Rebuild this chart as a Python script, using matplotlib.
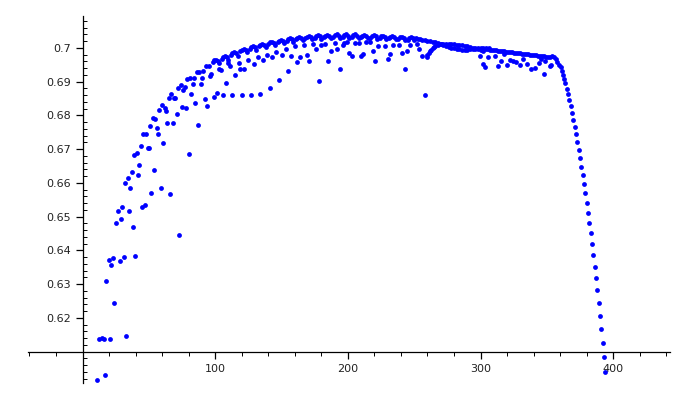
import matplotlib
matplotlib.use("Agg")
import matplotlib.pyplot as plt
from matplotlib.ticker import MultipleLocator, FuncFormatter

# ---- data ----
left_x = [10.7, 16.7, 12.7, 14.7, 16.0, 21, 33, 23.7, 17.9, 20, 22.7, 21.7, 28, 31, 39.8,
          25, 28.8, 37.8, 27, 29.8, 35, 44.8, 46.9, 51.8, 58.9, 65.9, 73, 80, 32, 35.8,
          34, 37, 42, 42.8, 53.9, 38.8, 40.8, 43.8, 49.1, 50.1, 60.9, 45.8, 47.9, 56.9,
          50.9, 55.9, 52.9, 54.9, 63.9, 68, 71, 57.9, 59.9, 61.9, 62.9, 75, 78, 65, 69,
          70, 66.9, 72, 74, 76, 77, 82, 85, 87, 79, 81, 84, 83, 89, 90, 86, 88, 91, 92,
          94, 93, 95, 96, 97, 99, 101]
left_y = [0.6016, 0.6030, 0.6139, 0.6141, 0.6139, 0.6138, 0.6146, 0.6245, 0.6309, 0.6372,
          0.6379, 0.6357, 0.6368, 0.6380, 0.6384, 0.6482, 0.6492, 0.6470, 0.6517, 0.6529,
          0.6518, 0.6530, 0.6535, 0.6569, 0.6586, 0.6567, 0.6446, 0.6686, 0.6599, 0.6586,
          0.6616, 0.6633, 0.6625, 0.6654, 0.6639, 0.6682, 0.6689, 0.6710, 0.6704, 0.6704,
          0.6718, 0.6745, 0.6745, 0.6746, 0.6768, 0.6764, 0.6794, 0.6789, 0.6779, 0.6778,
          0.6804, 0.6815, 0.6832, 0.6823, 0.6813, 0.6825, 0.6823, 0.6852, 0.6852, 0.6852,
          0.6864, 0.6882, 0.6890, 0.6876, 0.6884, 0.6863, 0.6838, 0.6772, 0.6908, 0.6912,
          0.6910, 0.6894, 0.6894, 0.6910, 0.6929, 0.6930, 0.6933, 0.6848, 0.6827, 0.6948,
          0.6946, 0.6918, 0.6924, 0.6856, 0.6867]

top_x = [98, 99, 100.5, 102, 103, 105, 106, 107.5, 109, 110, 112, 113, 114.5, 116, 117,
         119, 120, 121.5, 123, 124, 126, 127, 128.5, 130, 131, 133, 134, 135.5, 137, 138,
         140, 141, 142.5, 144, 145, 147, 148, 149.5, 151, 152, 154, 155, 156.5, 158, 159,
         161, 162, 163.5, 165, 166, 168, 169, 170.5, 172, 173, 175, 176, 177.5, 179, 180,
         182, 183, 184.5, 186, 187, 189, 190, 191.5, 193, 194, 196, 197, 198.5, 200, 201,
         203, 204, 205.5, 207, 208, 210, 211, 212.5, 214, 215, 217, 218, 219.5, 221, 222,
         224, 225, 226.5, 228, 229, 231, 232, 233.5, 235, 236, 238, 239, 240.5, 242, 243,
         245, 246, 247.5, 249, 250]
top_y = [0.6958, 0.6963, 0.6965, 0.6962, 0.6955, 0.6968, 0.6973, 0.6975, 0.6972, 0.6965,
         0.6980, 0.6985, 0.6987, 0.6984, 0.6977, 0.6990, 0.6995, 0.6997, 0.6994, 0.6987,
         0.6998, 0.7003, 0.7005, 0.7002, 0.6995, 0.7005, 0.7010, 0.7012, 0.7009, 0.7002,
         0.7012, 0.7017, 0.7019, 0.7016, 0.7009, 0.7017, 0.7022, 0.7024, 0.7021, 0.7014,
         0.7022, 0.7027, 0.7029, 0.7026, 0.7019, 0.7026, 0.7031, 0.7033, 0.7030, 0.7023,
         0.7029, 0.7034, 0.7036, 0.7033, 0.7026, 0.7031, 0.7036, 0.7038, 0.7035, 0.7028,
         0.7032, 0.7037, 0.7039, 0.7036, 0.7029, 0.7033, 0.7038, 0.7040, 0.7037, 0.7030,
         0.7033, 0.7038, 0.7040, 0.7037, 0.7030, 0.7033, 0.7038, 0.7040, 0.7037, 0.7030,
         0.7032, 0.7037, 0.7039, 0.7036, 0.7029, 0.7031, 0.7036, 0.7038, 0.7035, 0.7028,
         0.7030, 0.7035, 0.7037, 0.7034, 0.7027, 0.7029, 0.7034, 0.7036, 0.7033, 0.7026,
         0.7027, 0.7032, 0.7034, 0.7031, 0.7024, 0.7025, 0.7030, 0.7032, 0.7029, 0.7024]

mid_x = [103, 104, 110, 111, 118, 118.5, 122, 125, 129, 132, 136, 139, 143, 146, 150, 153,
         157, 160, 164, 167, 169, 171, 174, 176, 179.5, 183, 185, 187, 190, 192, 196, 197,
         199, 201, 203, 205, 208, 210, 211.5, 214, 216.7, 218.7, 220.7, 223, 227.7, 230,
         231.7, 233.8, 238.7, 240.8, 242.8, 244.8, 246.8, 251.8, 253.8, 255.8, 259.8,
         106, 108, 113, 115, 120, 127, 134, 141, 148, 155, 162, 178, 194, 257.9]
mid_y = [0.6938, 0.6935, 0.6955, 0.6946, 0.6956, 0.6939, 0.6939, 0.6963, 0.6953, 0.6972,
         0.6965, 0.6979, 0.6973, 0.6989, 0.6979, 0.6997, 0.6977, 0.7007, 0.6974, 0.7009,
         0.6979, 0.6960, 0.7012, 0.6997, 0.7009, 0.7012, 0.6961, 0.6990, 0.7014, 0.6997,
         0.7009, 0.7014, 0.7019, 0.6984, 0.6975, 0.7016, 0.7016, 0.6977, 0.6981, 0.7017,
         0.7017, 0.6991, 0.6962, 0.7007, 0.7007, 0.6968, 0.6981, 0.7009, 0.7009, 0.6986,
         0.6939, 0.6992, 0.7009, 0.7011, 0.6997, 0.6977, 0.6974,
         0.6861, 0.6897, 0.6860, 0.6920, 0.6860, 0.6860, 0.6864, 0.6881, 0.6904, 0.6932,
         0.6958, 0.6901, 0.6937, 0.6862]

braid_a_x = [251, 252.5, 254, 256, 258, 260, 262, 264, 266, 268, 270, 272, 274, 276, 278,
             280, 282, 284, 286, 288, 290, 292, 294, 296, 298, 300, 302, 304, 306]
braid_a_y = [0.7029, 0.7028, 0.7027, 0.7025, 0.7024, 0.7022, 0.7021, 0.7019, 0.7017,
             0.7014, 0.7012, 0.7009, 0.7006, 0.7003, 0.7001, 0.6999, 0.6997, 0.6996,
             0.6995, 0.6995, 0.6995, 0.6996, 0.6997, 0.6998, 0.7000, 0.7001, 0.7001,
             0.7000, 0.6999]
braid_b_x = [260, 261, 262, 263, 264, 265, 266, 268, 270, 272, 274, 276, 278, 280, 282, 284,
             286, 288, 290, 292, 294, 296, 298, 300, 302]
braid_b_y = [0.6980, 0.6985, 0.6990, 0.6995, 0.6999, 0.7002, 0.7005, 0.7009, 0.7011,
             0.7012, 0.7013, 0.7013, 0.7012, 0.7011, 0.7010, 0.7009, 0.7008, 0.7007,
             0.7005, 0.7003, 0.7001, 0.6999, 0.6996, 0.6993, 0.6990]

band_x = [304, 305.5, 307, 308.5, 310, 311.5, 313, 314.5, 316, 317.5, 319, 320.5, 322, 323.5,
          325, 326.5, 328, 329.5, 331, 332.5, 334, 335.5, 337, 338.5, 340, 341.5, 343, 344.5,
          346, 347.5, 349, 350.5, 352, 353.5, 355, 356.5]
band_y = [0.6998, 0.6996, 0.6993, 0.6995, 0.6994, 0.6993, 0.6991, 0.6992, 0.6991, 0.6990,
          0.6988, 0.6989, 0.6988, 0.6987, 0.6985, 0.6986, 0.6985, 0.6984, 0.6982, 0.6983,
          0.6982, 0.6981, 0.6979, 0.6980, 0.6979, 0.6978, 0.6976, 0.6977, 0.6976, 0.6975,
          0.6973, 0.6974, 0.6974, 0.6975, 0.6974, 0.6966]

scatter_x = [299.5, 301.6, 303.6, 305.8, 310.9, 313, 315.2, 318, 320, 322, 324.6, 326.7,
             329.7, 332.2, 335.2, 338.2, 340.8, 344.2, 345.3, 347.8, 348.8, 352.3, 353.3]
scatter_y = [0.6976, 0.6953, 0.6945, 0.6972, 0.6976, 0.6946, 0.6962, 0.6981, 0.6949, 0.6964,
             0.6961, 0.6959, 0.6949, 0.6967, 0.6952, 0.6937, 0.6941, 0.6955, 0.6966, 0.6923,
             0.6962, 0.6947, 0.6951]

tail_x = [357.8, 359.3, 360.4, 361.1, 361.9, 362.9, 363.8, 364.9, 365.9, 366.8, 367.9, 368.9,
          369.9, 370.9, 371.9, 372.9, 373.9, 374.9, 375.9, 376.9, 377.9, 378.9, 379.9, 380.9,
          381.9, 383, 384, 384.9, 386, 387, 388, 389, 390, 391, 392, 393, 394]
tail_y = [0.6959, 0.6950, 0.6943, 0.6933, 0.6921, 0.6908, 0.6895, 0.6878, 0.6863, 0.6845,
          0.6828, 0.6807, 0.6788, 0.6766, 0.6745, 0.6722, 0.6699, 0.6674, 0.6648, 0.6623,
          0.6596, 0.6570, 0.6541, 0.6511, 0.6480, 0.6451, 0.6419, 0.6386, 0.6352, 0.6318,
          0.6282, 0.6244, 0.6207, 0.6168, 0.6127, 0.6085, 0.6041]

y_ticks = [0.62, 0.63, 0.64, 0.65, 0.66, 0.67, 0.68, 0.69, 0.70]
x_ticks = [100, 200, 300, 400]

xs = left_x + top_x + mid_x + braid_a_x + braid_b_x + band_x + scatter_x + tail_x
ys = left_y + top_y + mid_y + braid_a_y + braid_b_y + band_y + scatter_y + tail_y

fig = plt.figure(figsize=(7, 4), dpi=100)
ax = fig.add_axes([0.04, 0.0425, 0.917, 0.9175])
ax.scatter(xs, ys, s=12, color='#0000ff', linewidths=0, zorder=3)

ax.set_xlim(-41.1, 442.7)
ax.set_ylim(0.60074, 0.70948)

ax.spines['top'].set_visible(False)
ax.spines['right'].set_visible(False)
ax.spines['left'].set_position(('data', 0))
ax.spines['bottom'].set_position(('data', 0.61))
for s in ('left', 'bottom'):
    ax.spines[s].set_linewidth(0.9)
    ax.spines[s].set_color('black')

ax.set_xticks(x_ticks)
ax.set_yticks(y_ticks)
ax.xaxis.set_minor_locator(MultipleLocator(20))
ax.yaxis.set_minor_locator(MultipleLocator(0.002))
ax.yaxis.set_major_formatter(FuncFormatter(lambda v, p: '%g' % round(v, 4)))
ax.xaxis.set_major_formatter(FuncFormatter(lambda v, p: '%g' % v))

ax.tick_params(axis='both', which='major', labelsize=8, length=5, width=0.9,
               direction='out', colors='black', labelcolor='#222222')
ax.tick_params(axis='y', which='minor', length=3, width=0.7, direction='in')
ax.tick_params(axis='x', which='minor', length=3, width=0.7, direction='out')

fig.savefig('out.png', dpi=100)
